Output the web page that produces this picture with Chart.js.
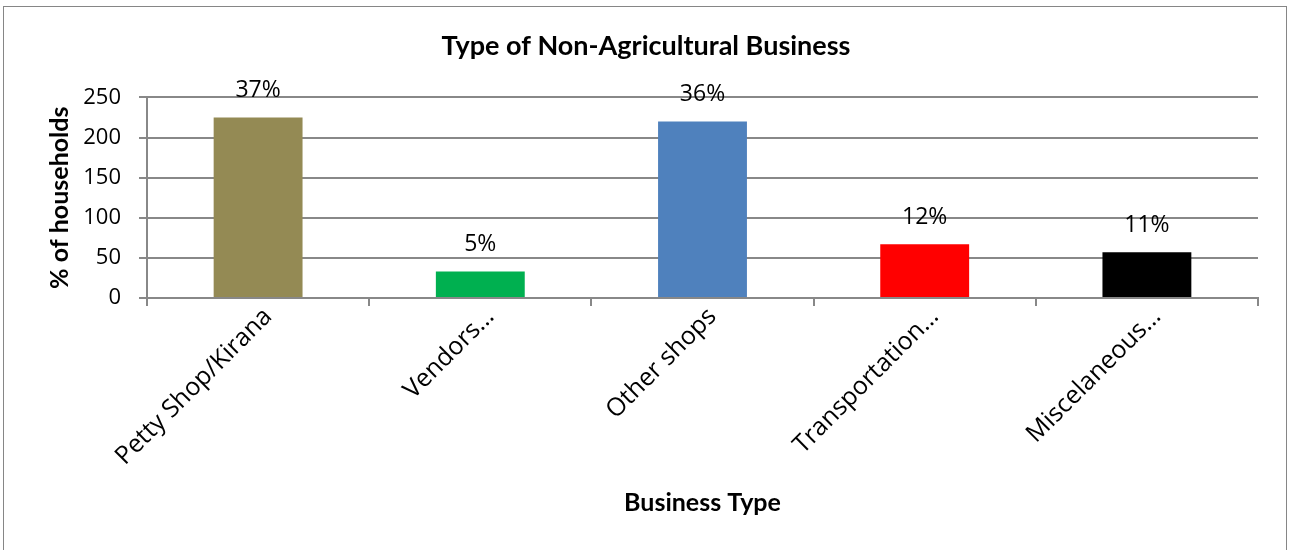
<!DOCTYPE html>
<html>
<head>
<meta charset="utf-8">
<script src="https://cdn.jsdelivr.net/npm/chart.js@4.4.1/dist/chart.umd.min.js"></script>
<style>
  html, body { margin: 0; padding: 0; background: #fff; }
  #frame { position: absolute; left: 3px; top: 6px; width: 1284px; height: 560px; border: 1px solid #868686; box-sizing: border-box; }
  #wrap { position: absolute; left: 0; top: 0; width: 1292px; height: 550px; }
</style>
</head>
<body>
<div id="frame"></div>
<div id="wrap"><canvas id="chart" width="1292" height="550"></canvas></div>
<script>
// --- Data ---
const categories = ['Petty Shop/Kirana', 'Vendors…', 'Other shops', 'Transportation…', 'Miscelaneous…'];
const households = [225, 33, 220, 67, 57];
const percentLabels = ['37%', '5%', '36%', '12%', '11%'];
const barColors = ['#948A54', '#00B050', '#4F81BD', '#FF0000', '#000000'];
const yTicks = [0, 50, 100, 150, 200, 250];

const TEXT = '"Open Sans", Lato, sans-serif';
const BOLD = 'Lato, "Open Sans", sans-serif';
const GRID = '#888888';

// draws the % text above each bar
const percentPlugin = {
  id: 'percentLabels',
  afterDatasetsDraw(chart) {
    const ctx = chart.ctx;
    const meta = chart.getDatasetMeta(0);
    ctx.save();
    ctx.font = '23px ' + TEXT;
    ctx.fillStyle = '#000';
    ctx.textAlign = 'center';
    ctx.textBaseline = 'middle';
    meta.data.forEach((bar, i) => {
      ctx.fillText(percentLabels[i], bar.x, bar.y - 27);
    });
    ctx.restore();
  }
};

new Chart(document.getElementById('chart'), {
  type: 'bar',
  data: {
    labels: categories,
    datasets: [{ data: households, backgroundColor: barColors, barPercentage: 0.4, categoryPercentage: 1 }]
  },
  options: {
    responsive: false,
    animation: false,
    layout: { padding: 0 },
    plugins: {
      legend: { display: false },
      tooltip: { enabled: false },
      title: {
        display: true, text: 'Type of Non-Agricultural Business', color: '#000',
        font: { family: BOLD, size: 27, weight: 'bold' }, padding: { top: 30, bottom: 35 }
      }
    },
    scales: {
      x: {
        afterFit: axis => { axis.height = 252; },
        grid: { offset: true, drawOnChartArea: false, color: GRID, lineWidth: 2, tickLength: 8 },
        border: { color: GRID, width: 2 },
        ticks: { color: '#000', font: { family: TEXT, size: 25 }, minRotation: 45, maxRotation: 45, padding: -4, labelOffset: 10 },
        title: { display: true, text: 'Business Type', color: '#000', font: { family: BOLD, size: 25, weight: 'bold' }, padding: { top: 0, bottom: 32 } }
      },
      y: {
        min: 0, max: 250,
        afterFit: axis => { axis.width = 147; },
        afterBuildTicks: axis => { axis.ticks = yTicks.map(v => ({ value: v })); },
        grid: { color: GRID, lineWidth: 2, tickLength: 8 },
        border: { color: GRID, width: 2 },
        ticks: { color: '#000', font: { family: TEXT, size: 22 }, padding: 18 },
        title: { display: true, text: '% of households', color: '#000', font: { family: BOLD, size: 25, weight: 'bold' }, padding: { top: 45, bottom: 0 } }
      },
      // empty right margin so the title stays centred on the whole canvas
      gap: {
        position: 'right', display: true,
        afterFit: axis => { axis.width = 34; },
        grid: { display: false }, border: { display: false }, ticks: { display: false }
      }
    }
  },
  plugins: [percentPlugin]
});
</script>
</body>
</html>
